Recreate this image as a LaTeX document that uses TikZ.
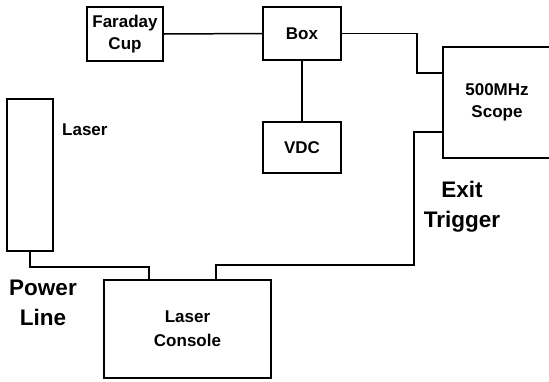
\documentclass[tikz,border=0pt]{standalone}
\usepackage{fontspec}
\setmainfont{Liberation Sans}
\usepackage{tikz}
\usetikzlibrary{positioning}

\begin{document}
\begin{tikzpicture}[
    x=1pt, y=-1pt,
    unit/.style={draw, line width=1.8pt, inner sep=0pt, align=center, font=\fontsize{17}{22}\selectfont\bfseries},
    wire/.style={line width=1.5pt},
    biglabel/.style={align=center, inner sep=0pt, font=\fontsize{22.5}{30}\selectfont\bfseries},
  ]
  \clip (0,0) rectangle (549,381);

  % Boxes
  \node[unit, minimum width=76pt, minimum height=54pt] (cup) at (125,34) {Faraday\\Cup};
  \node[unit, minimum width=78pt, minimum height=53pt] (box) at (302,33.5) {Box};
  \node[unit, minimum width=78pt, minimum height=51pt] (vdc) at (302,147.5) {VDC};
  \node[unit, minimum width=108pt, minimum height=111pt] (scope) at (497,102.5) {500MHz\\Scope};
  \node[unit, minimum width=46pt, minimum height=152pt] (laser) at (30,175) {};
  \node[unit, minimum width=167pt, minimum height=98pt, font=\fontsize{17}{24}\selectfont\bfseries] (console) at (187.5,329) {Laser\\Console};

  % Scope inputs
  \coordinate (scopeA) at (443,73);
  \coordinate (scopeB) at (443,132);

  % Wires
  \draw[wire] (cup.east) -- (box.west);
  \draw[wire] (box.south) -- (vdc.north);
  \draw[wire] (box.east) -- ++(75,0) |- (scopeA);
  \draw[wire] (scopeB) -| (414,265) -| ([xshift=28.5pt]console.north);
  \draw[wire] (laser.south) -- ++(0,15) -| ([xshift=-38.5pt]console.north);

  % Labels
  \node[inner sep=0pt, anchor=west, font=\fontsize{17}{22}\selectfont\bfseries] (laserlbl) at (62,130) {Laser};
  \node[biglabel] (powerlbl) at (43,303) {Power\\Line};
  \node[biglabel] (triglbl) at (462,207) {Exit\\Trigger};
\end{tikzpicture}
\end{document}
